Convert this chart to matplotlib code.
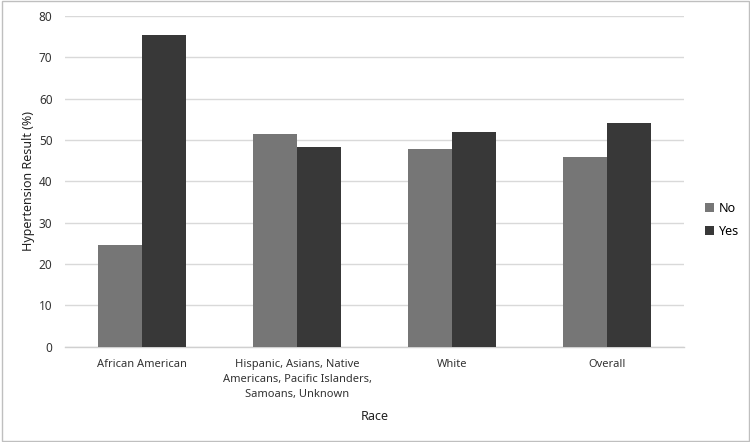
import matplotlib
matplotlib.use("Agg")
import matplotlib.pyplot as plt
import numpy as np
from matplotlib.patches import Rectangle

categories = ["African American",
              "Hispanic, Asians, Native\nAmericans, Pacific Islanders,\nSamoans, Unknown",
              "White", "Overall"]
no_vals = [24.5, 51.5, 47.8, 45.9]
yes_vals = [75.4, 48.3, 52.0, 54.0]
series_names = ["No", "Yes"]
yticks = [0, 10, 20, 30, 40, 50, 60, 70, 80]

plt.rcParams['font.family'] = ['Noto Sans', 'DejaVu Sans']

fig = plt.figure(figsize=(7.5, 4.42), dpi=100)
ax = fig.add_axes([0.0867, 0.2156, 0.8253, 0.7482])

x = np.arange(len(categories))
w = 0.284
ax.bar(x - w/2, no_vals, w, color="#767676", label=series_names[0], zorder=3)
ax.bar(x + w/2, yes_vals, w, color="#383838", label=series_names[1], zorder=3)

ax.set_xlim(-0.5, len(categories) - 0.5)
ax.set_ylim(0, 80)
ax.set_yticks(yticks)
ax.set_yticklabels([str(t) for t in yticks], fontsize=8.5, color="#333333")
ax.set_xticks(x)
ax.set_xticklabels(categories, fontsize=8, color="#333333", linespacing=1.55)
ax.tick_params(axis='x', length=0, pad=8.5)
ax.tick_params(axis='y', length=0, pad=9)
ax.grid(axis='y', color="#d9d9d9", linewidth=1, zorder=0)
for s in ["top", "right", "left"]:
    ax.spines[s].set_visible(False)
ax.spines["bottom"].set_color("#d0d0d0")
ax.spines["bottom"].set_linewidth(1)

ax.set_ylabel("Hypertension Result (%)", fontsize=9, color="#222222", labelpad=3)
ax.set_xlabel("Race", fontsize=9, color="#222222", labelpad=7)

ax.legend(loc="center left", bbox_to_anchor=(1.0, 0.384), frameon=False,
          fontsize=9, handlelength=0.7, handleheight=0.7, handletextpad=0.4,
          labelspacing=0.8, borderaxespad=1.3)

fig.patches.append(Rectangle((0.002, 0.003), 0.996, 0.994, transform=fig.transFigure,
                             fill=False, edgecolor="#bfbfbf", linewidth=1))

fig.savefig("out.png", dpi=100)
